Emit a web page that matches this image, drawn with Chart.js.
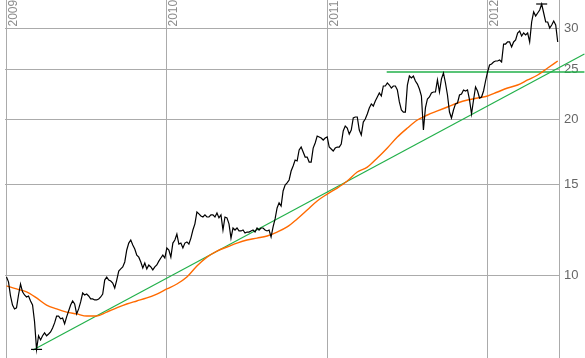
<!DOCTYPE html>
<html><head><meta charset="utf-8">
<script src="https://cdn.jsdelivr.net/npm/chart.js@4.4.1/dist/chart.umd.min.js"></script>
<style>html,body{margin:0;padding:0;background:#fff;overflow:hidden}canvas{display:block}</style>
</head><body>
<canvas id="c" width="585" height="358"></canvas>
<script>
// ---- data ----
const yearTicks = [2009, 2010, 2011, 2012];
const yearLabels = ['2009', '2010', '2011', '2012'];
const priceTicks = [10, 15, 20, 25, 30];

const priceStartYear = 2009;
const priceSamplesPerYear = 80;
const priceValues = [
 9.93, 9.72, 9.13, 8.77, 8.62, 8.66, 9.17, 9.63, 9.30, 9.17,
 9.09, 9.13, 8.93, 8.77, 8.14, 7.20, 7.65, 7.51, 7.65, 7.75,
 7.65, 7.71, 7.78, 7.92, 8.10, 8.35, 8.35, 8.25, 8.28, 8.07,
 8.32, 8.54, 8.77, 8.93, 8.81, 8.43, 8.62, 8.89, 9.25, 9.17,
 9.21, 9.13, 9.01, 9.01, 8.97, 8.97, 9.01, 9.09, 9.21, 9.80,
 9.93, 9.80, 9.76, 9.67, 9.46, 9.80, 10.20, 10.30, 10.39, 10.62,
 11.20, 11.55, 11.71, 11.45, 11.25, 10.95, 10.85, 10.62, 10.34, 10.57,
 10.30, 10.48, 10.39, 10.25, 10.39, 10.48, 10.66, 10.81, 10.95, 10.81,
 11.30, 11.20, 10.85, 11.55, 11.71, 12.02, 11.50, 11.55, 11.30, 11.55,
 11.61, 11.50, 11.81, 12.24, 12.58, 13.26, 13.15, 13.03, 12.97, 13.09,
 12.97, 12.97, 13.09, 13.09, 12.97, 13.20, 12.92, 13.09, 12.24, 12.97,
 12.92, 12.58, 11.81, 12.35, 12.24, 12.35, 12.19, 12.19, 12.24, 12.08,
 12.13, 12.13, 12.19, 12.24, 12.13, 12.35, 12.24, 12.35, 12.35, 12.24,
 12.19, 12.24, 11.87, 12.41, 12.86, 13.50, 13.81, 13.62, 14.56, 14.95,
 15.09, 15.29, 15.91, 16.27, 16.71, 16.64, 17.47, 17.70, 17.31, 16.93,
 16.93, 16.56, 16.56, 17.62, 18.02, 18.59, 18.51, 18.42, 18.26, 18.42,
 18.51, 17.70, 17.55, 17.39, 17.62, 17.70, 17.70, 17.94, 19.01, 19.43,
 19.26, 18.75, 19.09, 20.14, 20.23, 20.23, 19.09, 18.67, 19.78, 20.05,
 20.50, 21.06, 21.44, 21.24, 21.72, 22.11, 22.51, 22.21, 23.22, 23.22,
 23.53, 23.32, 23.01, 23.22, 23.22, 22.81, 21.63, 20.87, 20.68, 20.68,
 23.32, 24.27, 24.06, 24.27, 23.74, 23.42, 22.91, 22.21, 19.09, 21.06,
 21.92, 22.11, 22.51, 22.61, 22.61, 23.85, 22.61, 23.96, 24.60, 23.53,
 22.31, 20.68, 20.14, 20.87, 21.44, 21.53, 22.31, 22.41, 22.81, 22.71,
 22.81, 21.82, 20.50, 21.82, 23.12, 22.71, 22.01, 22.11, 22.71, 23.74,
 24.71, 25.49, 25.60, 25.83, 25.95, 25.95, 26.06, 25.83, 27.98, 27.98,
 28.24, 28.24, 27.62, 28.24, 28.49, 29.39, 29.65, 29.00, 29.39, 29.13,
 29.39, 28.24, 30.86, 32.27, 31.70, 32.12, 32.55, 33.43, 32.12, 30.86,
 30.86, 30.04, 30.45, 31.00, 30.45, 28.24
];

const maStartYear = 2009;
const maSamplesPerYear = 16;
const maValues = [
 9.55, 9.42, 9.30, 9.05, 8.77, 8.62, 8.50, 8.43, 8.35, 8.35,
 8.50, 8.66, 8.81, 8.93, 9.05, 9.21, 9.42, 9.63, 9.93, 10.43,
 10.85, 11.15, 11.35, 11.55, 11.71, 11.81, 11.92, 12.13, 12.41, 12.86,
 13.38, 13.93, 14.36, 14.75, 15.22, 15.84, 16.19, 16.86, 17.63, 18.51,
 19.26, 19.96, 20.41, 20.78, 21.15, 21.53, 21.82, 22.01, 22.21, 22.61,
 23.01, 23.32, 23.85, 24.38, 25.15, 25.95
];

const trendYears = [2009.165, 2012.604];
const trendValues = [7.18, 26.77];
const resistanceYears = [2011.371, 2012.604];
const resistanceValues = [24.71, 24.71];

const xRange = [2008.9907, 2012.4455];
const yRange = [6.93, 34.03];
const markerHalfYears = 0.0343;

// ---- build ----
const pricePts = priceValues.map((v, i) => ({ x: priceStartYear + i / priceSamplesPerYear, y: v }));
const maPts = maValues.map((v, i) => ({ x: maStartYear + i / maSamplesPerYear, y: v }));
const trendPts = trendYears.map((x, i) => ({ x, y: trendValues[i] }));
const resistPts = resistanceYears.map((x, i) => ({ x, y: resistanceValues[i] }));

const lowVal = Math.min(...priceValues), highVal = Math.max(...priceValues);
const lowX = pricePts[priceValues.indexOf(lowVal)].x;
const highX = pricePts[priceValues.indexOf(highVal)].x;
const lowMarker = [{ x: lowX - markerHalfYears, y: lowVal }, { x: lowX + markerHalfYears, y: lowVal }];
const highMarker = [{ x: highX - markerHalfYears, y: highVal }, { x: highX + markerHalfYears, y: highVal }];

const FONT = '"Liberation Sans", Arial, Helvetica, sans-serif';
const GRID = '#ababab';

const yearLabelPlugin = {
  id: 'yearLabels',
  beforeDatasetsDraw(chart) {
    const { ctx } = chart;
    const xs = chart.scales.x;
    ctx.save();
    ctx.fillStyle = '#8c8c8c';
    ctx.font = '12px ' + FONT;
    ctx.textAlign = 'left';
    ctx.textBaseline = 'alphabetic';
    yearTicks.forEach((yr, k) => {
      const px = xs.getPixelForValue(yr);
      ctx.save();
      ctx.translate(px + 10.5, 26.5);
      ctx.rotate(-Math.PI / 2);
      ctx.fillText(yearLabels[k], 0, 0);
      ctx.restore();
    });
    ctx.restore();
  }
};

const lineDs = (data, color, width, order) => ({
  data, borderColor: color, borderWidth: width, pointRadius: 0, pointHoverRadius: 0,
  fill: false, tension: 0, clip: false, order
});

new Chart(document.getElementById('c'), {
  type: 'line',
  data: {
    datasets: [
      lineDs(pricePts, '#000000', 1.2, 0),
      lineDs(lowMarker, '#000000', 1.2, 0),
      lineDs(highMarker, '#000000', 1.2, 0),
      Object.assign(lineDs(maPts, '#ff6a00', 1.4, 1), { cubicInterpolationMode: 'monotone' }),
      lineDs(trendPts, '#22b04a', 1.2, 2),
      lineDs(resistPts, '#22b04a', 1.4, 2)
    ]
  },
  options: {
    responsive: false,
    animation: false,
    devicePixelRatio: 1,
    layout: { padding: { left: 5, right: 0, top: 0, bottom: 0 } },
    plugins: { legend: { display: false }, tooltip: { enabled: false } },
    scales: {
      x: {
        type: 'linear', min: xRange[0], max: xRange[1],
        afterBuildTicks: (s) => { s.ticks = yearTicks.map(v => ({ value: v })); },
        afterFit: (s) => { s.height = 0; s.paddingLeft = 0; s.paddingRight = 0; s.paddingTop = 0; s.paddingBottom = 0; },
        ticks: { display: false },
        grid: { color: GRID, lineWidth: 1, drawTicks: false },
        border: { display: false }
      },
      y: {
        type: 'logarithmic', position: 'right', min: yRange[0], max: yRange[1],
        afterBuildTicks: (s) => { s.ticks = priceTicks.map(v => ({ value: v })); },
        afterFit: (s) => { s.width = 26; s.paddingTop = 0; s.paddingBottom = 0; },
        ticks: {
          color: '#666666', padding: 5, font: { family: FONT, size: 13 },
          callback: (v) => String(v)
        },
        grid: { color: GRID, lineWidth: 1, drawTicks: false },
        border: { display: true, color: GRID, width: 1 }
      }
    }
  },
  plugins: [yearLabelPlugin]
});
</script>
</body></html>
